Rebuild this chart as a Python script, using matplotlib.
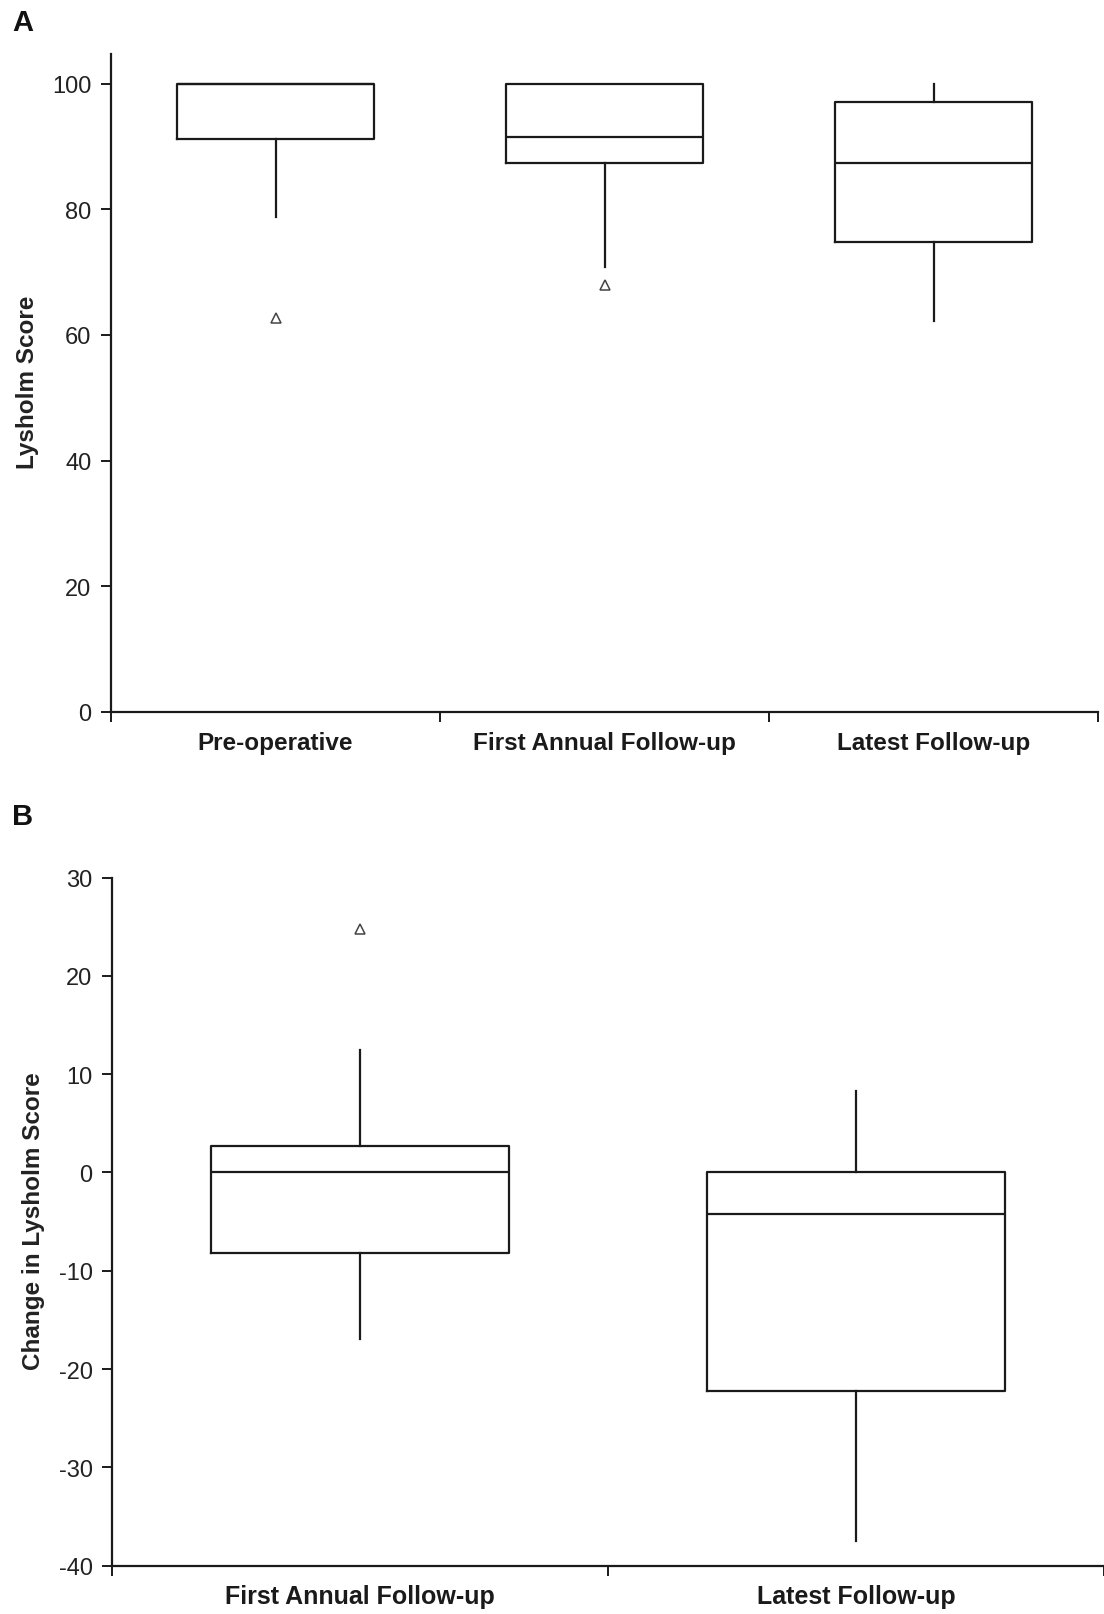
import matplotlib
matplotlib.use("Agg")
import matplotlib.pyplot as plt
from matplotlib.ticker import FixedLocator, NullFormatter

plt.rcParams['font.family'] = ['Liberation Sans', 'DejaVu Sans']
plt.rcParams['axes.unicode_minus'] = False

# ---- Data ----
cats_A = ["Pre-operative", "First Annual Follow-up", "Latest Follow-up"]
A_whislo = [78.8, 70.8, 62.2]
A_q1 = [91.2, 87.3, 74.8]
A_med = [100.0, 91.5, 87.3]
A_q3 = [100.0, 100.0, 97.1]
A_whishi = [100.0, 100.0, 100.0]
A_fliers = [[62.7], [68.0], []]
A_yticks = [0, 20, 40, 60, 80, 100]

cats_B = ["First Annual Follow-up", "Latest Follow-up"]
B_whislo = [-16.9, -37.5]
B_q1 = [-8.2, -22.2]
B_med = [0.0, -4.2]
B_q3 = [2.7, 0.0]
B_whishi = [12.5, 8.3]
B_fliers = [[24.8], []]
B_yticks = [-40, -30, -20, -10, 0, 10, 20, 30]

W, H = 1104, 1615
fig = plt.figure(figsize=(W / 100, H / 100), dpi=100)

lc = '#1a1a1a'
lw = 1.6


def make_stats(cats, lo, q1, med, q3, hi, fl):
    return [dict(label=c, whislo=a, q1=b, med=m, q3=d, whishi=e, fliers=f)
            for c, a, b, m, d, e, f in zip(cats, lo, q1, med, q3, hi, fl)]


def draw(ax, stats, n, yticks, ylim, labsize, labpad):
    pos = list(range(n))
    ax.bxp(stats, positions=pos, widths=0.6, showcaps=False, patch_artist=False,
           boxprops=dict(color=lc, linewidth=lw),
           medianprops=dict(color=lc, linewidth=lw),
           whiskerprops=dict(color=lc, linewidth=lw),
           flierprops=dict(marker='^', markersize=7, markerfacecolor='white',
                           markeredgecolor='#444444', markeredgewidth=1.1,
                           linestyle='none'))
    ax.set_xlim(-0.5, n - 0.5)
    ax.set_ylim(*ylim)
    for s in ['top', 'right']:
        ax.spines[s].set_visible(False)
    for s in ['left', 'bottom']:
        ax.spines[s].set_linewidth(1.6)
        ax.spines[s].set_color(lc)
    ax.xaxis.set_major_locator(FixedLocator([i - 0.5 for i in range(n + 1)]))
    ax.xaxis.set_major_formatter(NullFormatter())
    ax.xaxis.set_minor_locator(FixedLocator(pos))
    ax.set_xticklabels([s['label'] for s in stats], minor=True)
    ax.tick_params(axis='x', which='major', direction='out', length=7, width=1.4, color=lc)
    ax.tick_params(axis='x', which='minor', length=0, pad=labpad, labelsize=labsize,
                   labelcolor='#1a1a1a')
    for t in ax.get_xticklabels(minor=True):
        t.set_fontweight('bold')
    ax.set_yticks(yticks)
    ax.tick_params(axis='y', direction='out', length=7, width=1.4, color=lc,
                   labelsize=17, pad=7, labelcolor='#222222')


# Panel A
axA = fig.add_axes([111 / W, 1 - 712.7 / H, (1098 - 111) / W, (712.7 - 54.6) / H])
draw(axA, make_stats(cats_A, A_whislo, A_q1, A_med, A_q3, A_whishi, A_fliers),
     3, A_yticks, (0, 104.8), 17.5, 14)

# Panel B
axB = fig.add_axes([112 / W, 1 - 1566.6 / H, (1104 - 112) / W, (1566.6 - 878.6) / H])
draw(axB, make_stats(cats_B, B_whislo, B_q1, B_med, B_q3, B_whishi, B_fliers),
     2, B_yticks, (-40, 30), 18, 13)

fig.text(28 / W, 1 - 382 / H, "Lysholm Score", rotation=90, ha='center', va='center',
         fontsize=17.5, fontweight='bold', color='#222222')
fig.text(34 / W, 1 - 1221.5 / H, "Change in Lysholm Score", rotation=90, ha='center',
         va='center', fontsize=17.5, fontweight='bold', color='#222222')

fig.text(12 / W, 1 - 23 / H, "A", ha='left', va='center', fontsize=21,
         fontweight='bold', color='#111111')
fig.text(12 / W, 1 - 817 / H, "B", ha='left', va='center', fontsize=21,
         fontweight='bold', color='#111111')

fig.savefig("out.png", dpi=100, facecolor='white')
